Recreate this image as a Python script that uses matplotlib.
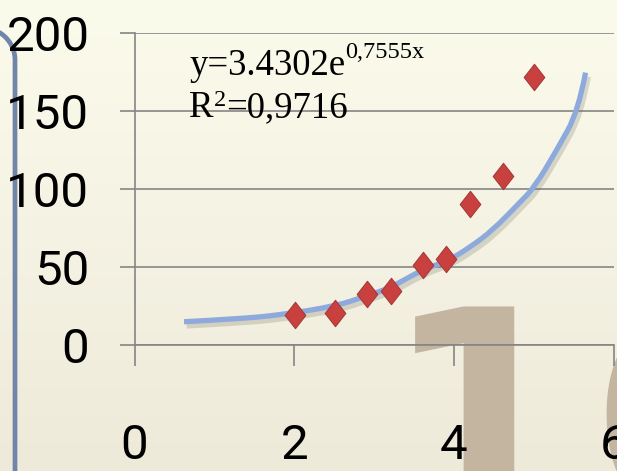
import numpy as np
import matplotlib
matplotlib.use("Agg")
import matplotlib.pyplot as plt
import matplotlib.patheffects as pe
from matplotlib import font_manager as fm
from matplotlib.path import Path
from matplotlib.patches import PathPatch

# ---- data ----
obs_x = [2.01, 2.51, 2.91, 3.21, 3.61, 3.90, 4.20, 4.61, 5.01]
obs_y = [19.2, 20.2, 32.7, 34.3, 51.3, 55.4, 90.4, 108.3, 171.6]

trend_x = [0.62, 1.28, 1.82, 2.53, 2.90, 3.20, 3.62, 3.91, 4.20, 4.49, 4.82, 5.01, 5.29, 5.56, 5.65]
trend_y = [14.9, 16.7, 19.2, 25.0, 31.4, 36.5, 48.7, 53.5, 62.5, 73.7, 91.0, 101.1, 125.0, 150.0, 174.6]

x_ticks = [0, 2, 4, 6]
y_ticks = [0, 50, 100, 150, 200]

eq_main = "y=3.4302e"
eq_exp = "0,7555x"
r2_main = "R"
r2_exp = "2"
r2_rest = "=0,9716"
slide_digits = ["1", "6"]


def pick_font(names):
    for n in names:
        try:
            fm.findfont(fm.FontProperties(family=n), fallback_to_default=False)
            return n
        except Exception:
            pass
    return "DejaVu Sans"


tick_font = pick_font(["Liberation Sans Narrow", "Roboto"])
serif_font = pick_font(["Liberation Serif", "DejaVu Serif"])

W, H, DPI = 617, 471, 100
fig = plt.figure(figsize=(W / DPI, H / DPI), dpi=DPI)

# cream gradient backdrop
bg = fig.add_axes([0, 0, 1, 1], zorder=-5)
top = np.array([251, 251, 236]) / 255
bot = np.array([238, 234, 218]) / 255
t = np.linspace(0, 1, 256)[:, None]
grad = top[None, None, :] * (1 - t[..., None]) + bot[None, None, :] * t[..., None]
grad = np.repeat(grad, 4, axis=1)
bg.imshow(grad, aspect="auto", extent=[0, 1, 0, 1], origin="upper")
bg.set_xlim(0, 1)
bg.set_ylim(0, 1)
bg.axis("off")

# slide number in the background
big = dict(fontsize=205, family="DejaVu Sans", fontweight="bold",
           color="#C3B5A0", ha="left", va="baseline", zorder=-3)
fig.text(383 / W, 1 - 515 / H, slide_digits[0], **big)
fig.text(588 / W, 1 - 515 / H, slide_digits[1], **big)

# rounded frame edge on the left
r = 32
cx, cy = 15 - r, 60
ang = np.linspace(np.pi / 2, 0, 40)
fx = list(cx + r * np.cos(ang)) + [15, 15]
fy = list(cy - r * np.sin(ang)) + [cy, H + 5]
fig.add_artist(plt.Line2D([v / W for v in fx], [1 - v / H for v in fy],
                          color="#7184A9", lw=3.4, zorder=-2,
                          solid_capstyle="butt"))

# main axes
left, right = 134.5, 613.5
y0px, y200px = 345, 33
ax = fig.add_axes([left / W, 1 - y0px / H, (right - left) / W, (y0px - y200px) / H],
                  zorder=1)
ax.patch.set_alpha(0)
ax.set_xlim(0, 6)
ax.set_ylim(0, 200)

grid_c = "#858585"
ax.set_yticks(y_ticks)
ax.set_xticks(x_ticks)
ax.yaxis.grid(True, color=grid_c, lw=1.2)
ax.set_axisbelow(True)
for s in ["top", "right"]:
    ax.spines[s].set_visible(False)
for s in ["left", "bottom"]:
    ax.spines[s].set_color(grid_c)
    ax.spines[s].set_linewidth(1.2)
ax.tick_params(axis="y", length=10.5, width=1.2, color=grid_c, pad=22,
               labelsize=35.5, labelcolor="black")
ax.tick_params(axis="x", length=15, width=1.2, color=grid_c, pad=41,
               labelsize=35.5, labelcolor="black")
for lab in ax.get_xticklabels() + ax.get_yticklabels():
    lab.set_family(tick_font)

# fitted trend curve, smoothed with quadratic segments, soft shadow
pts = np.column_stack([trend_x, trend_y])
verts = [tuple(pts[0])]
codes = [Path.MOVETO]
for i in range(1, len(pts) - 1):
    mid = (pts[i] + pts[i + 1]) / 2
    end = pts[i + 1] if i == len(pts) - 2 else mid
    verts += [tuple(pts[i]), tuple(end)]
    codes += [Path.CURVE3, Path.CURVE3]
curve = PathPatch(Path(verts, codes), facecolor="none", edgecolor="#8EAADC",
                  lw=3.8, capstyle="butt", joinstyle="round", zorder=3,
                  path_effects=[pe.SimpleLineShadow(offset=(2, -3),
                                                    shadow_color="#777766",
                                                    alpha=0.25),
                                pe.Normal()])
ax.add_patch(curve)

# observed values as diamonds
diamond = Path([(0, 1), (0.78, 0), (0, -1), (-0.78, 0), (0, 1)],
               [Path.MOVETO, Path.LINETO, Path.LINETO, Path.LINETO, Path.CLOSEPOLY])
ax.plot(obs_x, obs_y, ls="none", marker=diamond, ms=19, mfc="#C9413F",
        mec="#A83A3A", mew=0.8, zorder=4)

# equation annotation
fs_main, fs_sup = 26.5, 17.5
t1 = fig.text(189 / W, 1 - 75 / H, eq_main, fontsize=fs_main, family=serif_font,
              va="baseline", ha="left", zorder=5)
t2 = fig.text(189 / W, 1 - 117.3 / H, r2_main, fontsize=fs_main, family=serif_font,
              va="baseline", ha="left", zorder=5)
fig.canvas.draw()
rend = fig.canvas.get_renderer()
b1 = t1.get_window_extent(rend)
fig.text(b1.x1 / W, 1 - 58 / H, eq_exp, fontsize=fs_sup, family=serif_font,
         va="baseline", ha="left", zorder=5)
b2 = t2.get_window_extent(rend)
t3 = fig.text(b2.x1 / W, 1 - 106 / H, r2_exp, fontsize=fs_sup, family=serif_font,
              va="baseline", ha="left", zorder=5)
b3 = t3.get_window_extent(rend)
fig.text(b3.x1 / W, 1 - 117.3 / H, r2_rest, fontsize=fs_main, family=serif_font,
         va="baseline", ha="left", zorder=5)

fig.savefig("out.png", dpi=DPI)
